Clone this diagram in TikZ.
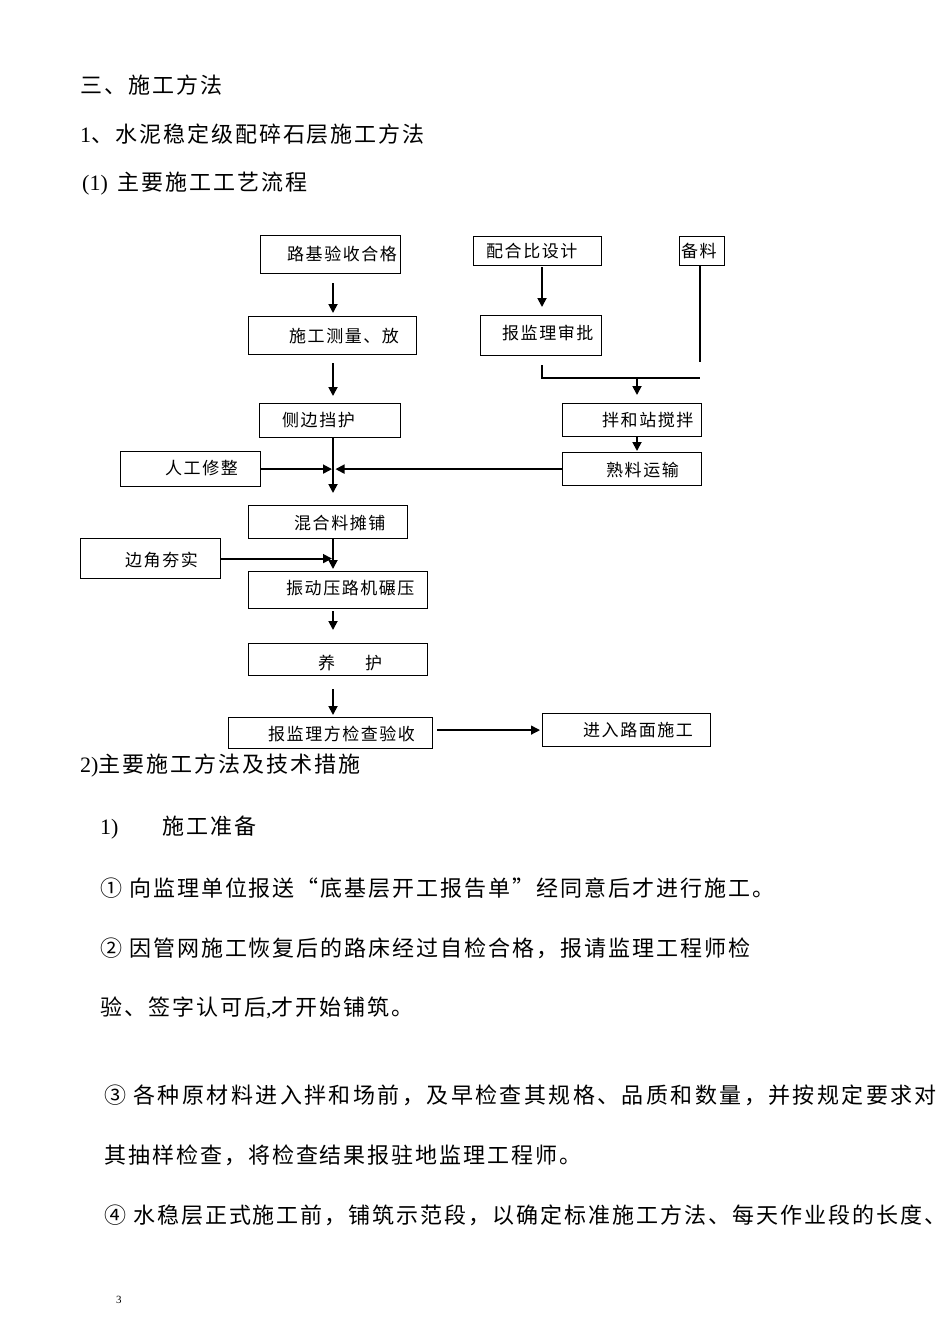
\documentclass[tikz,border=0pt]{standalone}
\usepackage{fontspec}
\setmainfont{Liberation Serif}
\newfontfamily\cjk[LetterSpace=9]{Noto Sans CJK SC}
\newfontfamily\cjkw[LetterSpace=11]{Noto Sans CJK SC}
\newfontfamily\lat{Liberation Serif}
\usetikzlibrary{arrows.meta,calc}
\tikzset{
  box/.style={draw=black, line width=1.2pt, anchor=north west, inner sep=0pt, fill=white},
  ftxt/.style={font=\cjk\fontsize{17}{17}\selectfont, anchor=west, inner sep=0pt},
  btxt/.style={font=\cjk\fontsize{22}{22}\selectfont, anchor=west, inner sep=0pt},
  wtxt/.style={font=\cjkw\fontsize{22}{22}\selectfont, anchor=west, inner sep=0pt},
  conn/.style={line width=1.8pt},
  arr/.style={conn, -{Triangle[length=9pt,width=9pt]}},
}
\begin{document}
\begin{tikzpicture}[x=1pt,y=-1pt]
\useasboundingbox[fill=white] (0,0) rectangle (950,1344);

% ---- heading text
\node[btxt] (h1) at (80,85) {三、施工方法};
\node[btxt] (h2) at (80,134) {{\lat 1}、水泥稳定级配碎石层施工方法};
\node[btxt] (h3) at (82,184) {\makebox[35pt][l]{\lat (1)}主要施工工艺流程};

% ---- flowchart boxes
\node[box, minimum width=140, minimum height=38] (lj) at (260,235) {};
\node[ftxt] (tlj) at (287,254) {路基验收合格};
\node[box, minimum width=168, minimum height=38] (cl) at (248,316) {};
\node[ftxt] (tcl) at (289,336) {施工测量、放};
\node[box, minimum width=141, minimum height=34] (cb) at (259,403) {};
\node[ftxt] (tcb) at (282,420) {侧边挡护};
\node[box, minimum width=140, minimum height=35] (rg) at (120,451) {};
\node[ftxt] (trg) at (165,468) {人工修整};

\node[box, minimum width=128, minimum height=29] (pb) at (473,236) {};
\node[ftxt] (tpb) at (486,251) {配合比设计};
\node[box, minimum width=45, minimum height=29] (bl) at (679,236) {};
\node[ftxt] (tbl) at (681,251) {备料};
\node[box, minimum width=121, minimum height=40] (bj) at (480,315) {};
\node[ftxt] (tbj) at (502,333) {报监理审批};
\node[box, minimum width=139, minimum height=33] (bh) at (562,403) {};
\node[ftxt] (tbh) at (602,420) {拌和站搅拌};
\node[box, minimum width=139, minimum height=33] (sl) at (562,452) {};
\node[ftxt] (tsl) at (606,470) {熟料运输};

\node[box, minimum width=159, minimum height=33] (hh) at (248,505) {};
\node[ftxt] (thh) at (294,523) {混合料摊铺};
\node[box, minimum width=140, minimum height=40] (bj2) at (80,538) {};
\node[ftxt] (tbj2) at (125,560) {边角夯实};
\node[box, minimum width=179, minimum height=37] (zd) at (248,571) {};
\node[ftxt] (tzd) at (286,588) {振动压路机碾压};
\node[box, minimum width=179, minimum height=32] (yh) at (248,643) {};
\node[ftxt] (tyh) at (318,663) {养\hspace{30pt}护};
\node[box, minimum width=204, minimum height=31] (bc) at (228,717) {};
\node[ftxt] (tbc) at (268,734) {报监理方检查验收};
\node[box, minimum width=168, minimum height=33] (jr) at (542,713) {};
\node[ftxt] (tjr) at (583,730) {进入路面施工};

% ---- guide coordinates
\coordinate (X) at (333,0);
\coordinate (Y) at (542,0);
\coordinate (Z) at (700,0);
\coordinate (W) at (637,0);
\coordinate (zend) at (700,362);
\coordinate (m1) at (542,365);
\coordinate (m2) at (542,378);
\coordinate (m3) at (700,378);
\coordinate (mW) at (637,378);

% ---- connectors, left column
\draw[arr, shorten <=9pt, shorten >=3pt] (lj.south -| X) -- (cl.north -| X);
\draw[arr, shorten <=8pt, shorten >=7pt] (cl.south -| X) -- (cb.north -| X);
\draw[arr, shorten >=12pt] (cb.south -| X) -- (hh.north -| X);
\draw[arr, shorten >=1pt] (rg.east) -- (rg.east -| X);
\draw[arr, shorten >=2.5pt] (sl.west) -- (sl.west -| X);
\draw[arr, shorten >=2pt] (hh.south -| X) -- (zd.north -| X);
\draw[arr, shorten >=1pt] (bj2.east) -- (bj2.east -| X);
\draw[arr, shorten <=2pt, shorten >=13pt] (zd.south -| X) -- (yh.north -| X);
\draw[arr, shorten <=13pt, shorten >=2pt] (yh.south -| X) -- (bc.north -| X);
\draw[arr, line width=1.3pt, shorten <=4pt, shorten >=2pt] (bc.east |- jr.west) -- (jr.west);

% ---- connectors, right column
\draw[arr, shorten <=1pt, shorten >=8pt] (pb.south -| Y) -- (bj.north -| Y);
\draw[conn] (bl.south -| Z) -- (zend);
\draw[conn] (m1) -- (m2) -- (m3);
\draw[arr, shorten >=8pt] (mW) -- (bh.north -| W);
\draw[arr, shorten >=1pt] (bh.south -| W) -- (sl.north -| W);

% ---- body text
\node[btxt] (t1) at (80,766) {{\lat 2)}主要施工方法及技术措施};
\node[btxt] (t2) at (100,828) {\makebox[62pt][l]{\lat 1)}施工准备};
\node[btxt] (t3) at (100,888) {① 向监理单位报送“底基层开工报告单”经同意后才进行施工。};
\node[btxt] (t4) at (100,948) {② 因管网施工恢复后的路床经过自检合格，报请监理工程师检};
\node[btxt] (t5) at (100,1008) {验、签字认可后{\lat ,}才开始铺筑。};
\node[wtxt] (t6) at (104,1095) {③ 各种原材料进入拌和场前，及早检查其规格、品质和数量，并按规定要求对};
\node[btxt] (t7) at (104,1155) {其抽样检查，将检查结果报驻地监理工程师。};
\node[btxt] (t8) at (104,1215) {④ 水稳层正式施工前，铺筑示范段，以确定标准施工方法、每天作业段的长度、};
\node[font=\lat\fontsize{11}{11}\selectfont, anchor=west, inner sep=0pt] (pg) at (116,1300) {3};
\end{tikzpicture}
\end{document}
